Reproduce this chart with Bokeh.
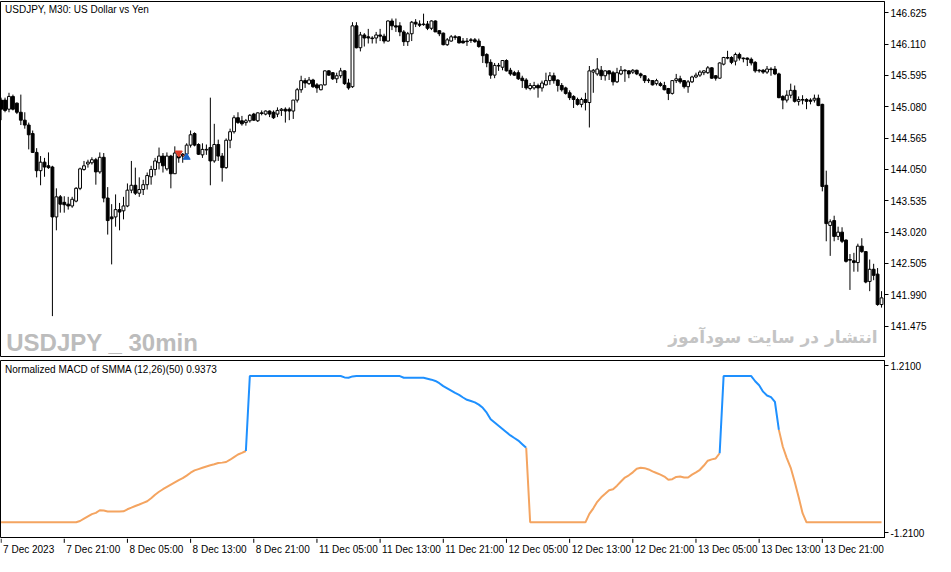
import numpy as np
from bokeh.core.properties import value
from bokeh.embed import file_html
from bokeh.layouts import column
from bokeh.models import ColumnDataSource, FixedTicker, Label, PrintfTickFormatter, Range1d
from bokeh.plotting import figure
from bokeh.resources import INLINE

FONT = "Liberation Sans"

# USDJPY M30, bar index -1 = 7 Dec 2023 13:00
first_bar = -1

opens = [
    145.19, 145.19, 145.04, 145.25, 145.14, 144.99, 144.86, 144.78, 144.64, 144.33, 144.03, 144.17, 144.11, 144.09,
    143.27, 143.60, 143.51, 143.48, 143.45, 143.53, 143.74, 144.05, 144.14, 144.16, 144.21, 144.01, 144.25, 143.58,
    143.27, 143.27, 143.39, 143.37, 143.45, 143.71, 143.79, 143.66, 143.72, 143.80, 143.93, 144.05, 144.16, 144.27,
    144.06, 144.27, 143.98, 144.27, 144.30, 144.30, 144.45, 144.64, 144.46, 144.29, 144.37, 144.41, 144.19, 144.46,
    144.27, 144.08, 144.53, 144.67, 144.90, 144.85, 144.82, 144.85, 144.96, 144.85, 144.98, 144.96, 145.01, 144.99,
    144.96, 145.02, 145.04, 145.04, 145.01, 145.19, 145.36, 145.51, 145.46, 145.52, 145.44, 145.36, 145.44, 145.67,
    145.64, 145.54, 145.59, 145.67, 145.47, 145.41, 146.41, 146.05, 146.26, 146.23, 146.21, 146.21, 146.26, 146.24,
    146.16, 146.49, 146.41, 146.41, 146.31, 146.15, 146.28, 146.47, 146.44, 146.44, 146.44, 146.37, 146.49, 146.33,
    146.29, 146.10, 146.16, 146.23, 146.23, 146.16, 146.16, 146.18, 146.18, 146.16, 146.07, 145.94, 145.81, 145.60,
    145.76, 145.73, 145.84, 145.68, 145.64, 145.64, 145.55, 145.52, 145.38, 145.39, 145.43, 145.39, 145.44, 145.51,
    145.59, 145.52, 145.43, 145.39, 145.31, 145.25, 145.20, 145.12, 145.20, 145.15, 145.65, 145.62, 145.68, 145.59,
    145.67, 145.64, 145.49, 145.62, 145.68, 145.67, 145.65, 145.68, 145.62, 145.59, 145.52, 145.51, 145.46, 145.46,
    145.43, 145.38, 145.30, 145.51, 145.54, 145.51, 145.41, 145.49, 145.57, 145.60, 145.64, 145.64, 145.72, 145.59,
    145.55, 145.78, 145.89, 145.89, 145.83, 145.94, 145.88, 145.88, 145.86, 145.81, 145.68, 145.68, 145.65, 145.70,
    145.70, 145.62, 145.25, 145.19, 145.27, 145.35, 145.17, 145.20, 145.20, 145.19, 145.19, 145.22, 145.12, 143.79,
    143.13, 143.21, 142.95, 143.02, 142.89, 142.57, 142.55, 142.52, 142.79, 142.70, 142.21, 142.41, 142.33, 141.83,
]
highs = [
    145.23, 145.23, 145.31, 145.28, 145.15, 145.28, 144.99, 144.82, 144.69, 144.40, 144.27, 144.24, 144.33, 144.11,
    143.74, 143.63, 143.61, 143.60, 143.60, 143.76, 144.08, 144.19, 144.21, 144.25, 144.24, 144.33, 144.32, 143.76,
    143.48, 143.64, 143.50, 143.60, 143.82, 144.19, 144.08, 143.92, 143.88, 144.00, 144.11, 144.24, 144.41, 144.32,
    144.33, 144.29, 144.43, 144.35, 144.32, 144.48, 144.69, 144.66, 144.48, 144.48, 144.46, 145.23, 144.80, 144.54,
    144.32, 144.56, 144.72, 144.94, 144.99, 144.93, 144.88, 144.96, 144.98, 144.99, 145.02, 145.02, 145.02, 145.02,
    145.07, 145.06, 145.07, 145.07, 145.19, 145.39, 145.59, 145.55, 145.57, 145.54, 145.47, 145.44, 145.68, 145.68,
    145.65, 145.64, 145.72, 145.68, 145.54, 146.47, 146.47, 146.31, 146.29, 146.36, 146.24, 146.31, 146.36, 146.28,
    146.50, 146.53, 146.53, 146.47, 146.34, 146.31, 146.49, 146.52, 146.50, 146.61, 146.49, 146.50, 146.50, 146.34,
    146.30, 146.21, 146.26, 146.26, 146.24, 146.21, 146.21, 146.21, 146.21, 146.20, 146.08, 145.96, 145.86, 145.80,
    145.80, 145.84, 145.86, 145.72, 145.67, 145.68, 145.59, 145.55, 145.47, 145.49, 145.46, 145.51, 145.64, 145.65,
    145.64, 145.53, 145.47, 145.41, 145.35, 145.27, 145.23, 145.23, 145.31, 145.75, 145.70, 145.88, 145.75, 145.68,
    145.68, 145.67, 145.72, 145.75, 145.70, 145.68, 145.70, 145.69, 145.64, 145.60, 145.55, 145.52, 145.54, 145.49,
    145.49, 145.39, 145.52, 145.62, 145.59, 145.52, 145.52, 145.59, 145.64, 145.68, 145.68, 145.75, 145.73, 145.60,
    145.81, 145.90, 146.00, 145.91, 145.97, 145.97, 145.89, 145.89, 145.89, 145.83, 145.70, 145.70, 145.75, 145.73,
    145.75, 145.64, 145.27, 145.35, 145.46, 145.43, 145.25, 145.27, 145.22, 145.22, 145.28, 145.28, 145.13, 144.03,
    143.23, 143.29, 143.11, 143.10, 142.90, 142.66, 142.68, 142.83, 142.92, 142.71, 142.57, 142.50, 142.43, 142.05,
]
lows = [
    144.86, 144.99, 144.99, 145.02, 144.96, 144.78, 144.72, 144.38, 144.32, 143.92, 143.79, 143.93, 144.06, 141.64,
    143.05, 143.34, 143.34, 143.39, 143.42, 143.51, 143.71, 144.03, 144.08, 144.13, 143.80, 143.98, 143.51, 142.98,
    142.49, 143.11, 143.05, 143.23, 143.43, 143.66, 143.63, 143.60, 143.63, 143.72, 143.80, 143.95, 144.05, 144.00,
    144.03, 143.74, 143.98, 144.16, 144.16, 144.29, 144.41, 144.43, 144.29, 144.24, 144.29, 143.79, 144.16, 144.19,
    143.85, 144.06, 144.40, 144.64, 144.80, 144.77, 144.77, 144.82, 144.85, 144.83, 144.94, 144.94, 144.91, 144.88,
    144.91, 144.93, 144.82, 144.86, 144.88, 145.15, 145.31, 145.39, 145.44, 145.39, 145.31, 145.35, 145.43, 145.59,
    145.52, 145.47, 145.55, 145.44, 145.36, 145.39, 146.04, 145.99, 146.07, 146.12, 146.12, 146.12, 146.16, 146.12,
    146.15, 146.34, 146.31, 146.24, 146.08, 146.08, 146.16, 146.39, 146.39, 146.41, 146.34, 146.34, 146.31, 146.24,
    146.09, 146.08, 146.15, 146.18, 146.12, 146.12, 146.08, 146.13, 146.13, 146.05, 145.80, 145.73, 145.54, 145.55,
    145.67, 145.68, 145.66, 145.59, 145.59, 145.52, 145.39, 145.36, 145.35, 145.36, 145.23, 145.33, 145.43, 145.44,
    145.46, 145.33, 145.33, 145.28, 145.19, 145.06, 145.10, 145.07, 145.02, 144.74, 145.31, 145.59, 145.52, 145.51,
    145.52, 145.43, 145.47, 145.60, 145.49, 145.55, 145.62, 145.60, 145.55, 145.47, 145.47, 145.43, 145.43, 145.41,
    145.35, 145.19, 145.28, 145.47, 145.46, 145.38, 145.31, 145.47, 145.55, 145.57, 145.60, 145.62, 145.54, 145.51,
    145.54, 145.76, 145.86, 145.78, 145.76, 145.84, 145.81, 145.75, 145.76, 145.64, 145.64, 145.62, 145.62, 145.59,
    145.60, 145.22, 145.04, 145.15, 145.22, 145.15, 145.10, 145.12, 145.04, 145.12, 145.15, 145.09, 143.69, 142.87,
    142.63, 142.87, 142.89, 142.84, 142.52, 142.07, 142.37, 142.37, 142.68, 142.18, 142.05, 142.23, 141.81, 141.78,
]
closes = [
    145.04, 145.02, 145.25, 145.04, 144.99, 144.86, 144.78, 144.62, 144.33, 144.03, 144.17, 144.09, 144.08, 143.27,
    143.60, 143.48, 143.47, 143.45, 143.56, 143.74, 144.06, 144.11, 144.17, 144.21, 144.01, 144.25, 143.58, 143.21,
    143.24, 143.39, 143.35, 143.45, 143.71, 143.79, 143.66, 143.72, 143.80, 143.95, 144.05, 144.19, 144.27, 144.11,
    144.27, 143.98, 144.32, 144.24, 144.27, 144.45, 144.62, 144.45, 144.30, 144.38, 144.38, 144.19, 144.46, 144.27,
    144.08, 144.53, 144.67, 144.90, 144.82, 144.80, 144.85, 144.94, 144.86, 144.98, 144.97, 145.01, 144.96, 144.90,
    145.02, 145.04, 145.01, 145.01, 145.19, 145.36, 145.51, 145.47, 145.52, 145.41, 145.39, 145.44, 145.67, 145.60,
    145.54, 145.59, 145.67, 145.46, 145.39, 146.41, 146.05, 146.26, 146.21, 146.21, 146.20, 146.26, 146.24, 146.16,
    146.49, 146.41, 146.39, 146.31, 146.15, 146.28, 146.47, 146.44, 146.42, 146.43, 146.37, 146.49, 146.31, 146.28,
    146.10, 146.18, 146.23, 146.22, 146.13, 146.13, 146.15, 146.17, 146.15, 146.07, 145.92, 145.80, 145.60, 145.76,
    145.75, 145.84, 145.67, 145.62, 145.60, 145.54, 145.51, 145.39, 145.43, 145.43, 145.39, 145.47, 145.51, 145.59,
    145.51, 145.43, 145.36, 145.30, 145.23, 145.20, 145.12, 145.20, 145.15, 145.67, 145.68, 145.70, 145.59, 145.67,
    145.62, 145.49, 145.64, 145.68, 145.67, 145.62, 145.68, 145.62, 145.59, 145.51, 145.51, 145.44, 145.51, 145.43,
    145.36, 145.30, 145.51, 145.54, 145.49, 145.41, 145.49, 145.57, 145.60, 145.65, 145.67, 145.72, 145.55, 145.55,
    145.80, 145.89, 145.88, 145.81, 145.94, 145.88, 145.87, 145.86, 145.80, 145.67, 145.67, 145.65, 145.70, 145.69,
    145.62, 145.23, 145.19, 145.27, 145.35, 145.17, 145.20, 145.19, 145.17, 145.17, 145.22, 145.10, 143.77, 143.16,
    143.19, 142.95, 143.02, 142.87, 142.54, 142.56, 142.52, 142.79, 142.70, 142.20, 142.41, 142.31, 141.83, 141.94,
]

# Normalized MACD of SMMA, one value per bar
macd = (
    [-1.060] * 20
    + [-1.041, -1.008, -0.975, -0.942, -0.923, -0.885, -0.890, -0.904, -0.904, -0.904, -0.904, -0.900,
       -0.871, -0.848, -0.824, -0.801, -0.777, -0.754, -0.711, -0.660, -0.617, -0.580, -0.547, -0.514,
       -0.481, -0.448, -0.420, -0.382, -0.340, -0.307, -0.288, -0.269, -0.250, -0.232, -0.218, -0.199,
       -0.194, -0.185, -0.152, -0.114, -0.076, -0.053, -0.025]
    + [1.062] * 24
    + [1.043, 1.038, 1.057]
    + [1.062] * 12
    + [1.038] * 6
    + [1.024, 1.010, 0.991, 0.958, 0.916, 0.883, 0.850, 0.817, 0.789, 0.751, 0.718, 0.700, 0.681, 0.648,
       0.601, 0.530, 0.436, 0.389, 0.342, 0.295, 0.248, 0.201, 0.163, 0.126, 0.074, 0.022]
    + [-1.060] * 15
    + [-0.937, -0.857, -0.763, -0.697, -0.646, -0.594, -0.580, -0.528, -0.467, -0.410, -0.378, -0.335,
       -0.283, -0.269, -0.274, -0.293, -0.321, -0.345, -0.368, -0.396, -0.443, -0.434, -0.401, -0.396,
       -0.410, -0.410, -0.368, -0.335, -0.298, -0.236, -0.166, -0.147, -0.133, -0.058]
    + [1.062] * 8
    + [0.987, 0.930, 0.836, 0.780, 0.756, 0.686, 0.281, 0.036, -0.128, -0.269, -0.471, -0.693, -0.928]
    + [-1.060] * 20
)
# bars where the line is drawn blue (first, last)
blue_runs = [(62, 132), (182, 196)]

price_ticks = [146.625, 146.110, 145.595, 145.080, 144.565, 144.050, 143.535, 143.020, 142.505, 141.990, 141.475]
macd_ticks = [1.21, -1.21]
time_ticks = [-1, 15, 31, 47, 63, 79, 95, 111, 127, 143, 159, 175, 191, 207]
time_labels = ["7 Dec 2023", "7 Dec 21:00", "8 Dec 05:00", "8 Dec 13:00", "8 Dec 21:00", "11 Dec 05:00",
               "11 Dec 13:00", "11 Dec 21:00", "12 Dec 05:00", "12 Dec 13:00", "12 Dec 21:00", "13 Dec 05:00",
               "13 Dec 13:00", "13 Dec 21:00"]

sell_bar, sell_price = 44, 144.32
buy_bar, buy_price = 46, 144.25

ORANGE = "#f4a460"
BLUE = "#1e90ff"

bars = np.arange(first_bar, first_bar + len(closes))
o = np.array(opens)
h = np.array(highs)
l = np.array(lows)
c = np.array(closes)
bull = c >= o

x_rng = Range1d(-1.15, 222.75)


def style_right_axis(ax):
    ax.axis_line_color = "black"
    ax.major_tick_line_color = "black"
    ax.major_tick_out = 4
    ax.major_tick_in = 0
    ax.minor_tick_line_color = None
    ax.major_label_text_font = FONT
    ax.major_label_text_font_size = "10px"
    ax.major_label_text_color = "black"
    ax.major_label_standoff = 2


# price panel
top = figure(frame_width=884, frame_height=356, x_range=x_rng, y_range=Range1d(140.96, 146.81),
             x_axis_location=None, y_axis_location="right", output_backend="svg", toolbar_location=None,
             min_border_left=0, min_border_top=1, min_border_bottom=0, min_border_right=0)
top.grid.visible = False
top.outline_line_color = "black"
top.yaxis.ticker = FixedTicker(ticks=price_ticks)
top.yaxis.formatter = PrintfTickFormatter(format="%.3f")
style_right_axis(top.yaxis[0])

top.segment(x0=bars, y0=h, x1=bars, y1=l, line_color="black", line_width=1)
up = ColumnDataSource(dict(x=bars[bull], top=c[bull], bottom=o[bull]))
dn = ColumnDataSource(dict(x=bars[~bull], top=o[~bull], bottom=c[~bull]))
top.vbar(x="x", top="top", bottom="bottom", width=0.72, source=up, fill_color="white", line_color="black")
top.vbar(x="x", top="top", bottom="bottom", width=0.72, source=dn, fill_color="black", line_color="black")

top.segment(x0=[sell_bar], y0=[sell_price], x1=[buy_bar], y1=[buy_price], line_color="#e03c28",
            line_width=1, line_dash="2 2")
top.scatter([sell_bar], [sell_price], marker="inverted_triangle", size=7, color="#e03c28")
top.scatter([buy_bar], [buy_price], marker="triangle", size=7, color="#1a64c8")

top.add_layout(Label(x=0, y=146.68, text="USDJPY, M30:  US Dollar vs Yen", text_font=FONT,
                     text_font_size="10px", text_baseline="middle", text_color="black"))
top.add_layout(Label(x=0.3, y=141.20, text="USDJPY _ 30min", text_font=FONT,
                     text_font_style="bold", text_font_size="24px", text_color="#bcbcbc",
                     text_baseline="alphabetic"))
top.add_layout(Label(x=221, y=141.30, text="انتشار در سایت سودآموز", text_font="DejaVu Sans",
                     text_font_style="bold", text_font_size="17px", text_color="#c4c4c4",
                     text_align="right", text_baseline="middle"))

# indicator panel
bot = figure(frame_width=884, frame_height=178, x_range=x_rng, y_range=Range1d(-1.295, 1.288),
             x_axis_location=None, y_axis_location="right", output_backend="svg", toolbar_location=None,
             min_border_left=0, min_border_top=3, min_border_bottom=0, min_border_right=0)
bot.grid.visible = False
bot.outline_line_color = "black"
bot.yaxis.ticker = FixedTicker(ticks=macd_ticks)
bot.yaxis.formatter = PrintfTickFormatter(format="%.4f")
style_right_axis(bot.yaxis[0])

blue = np.zeros(len(macd), dtype=bool)
for a, b in blue_runs:
    blue |= (bars >= a) & (bars <= b)
m = np.array(macd)
xs, ys, cols = [], [], []
start = 0
for k in range(1, len(m) + 1):
    if k == len(m) or blue[k] != blue[start]:
        s0 = max(start - 1, 0)
        xs.append(list(bars[s0:k]))
        ys.append(list(m[s0:k]))
        cols.append(BLUE if blue[start] else ORANGE)
        start = k
bot.multi_line(xs=xs, ys=ys, line_color=cols, line_width=2)

bot.add_layout(Label(x=0, y=1.16, text="Normalized MACD of SMMA (12,26)(50) 0.9373", text_font=FONT,
                     text_font_size="10px", text_baseline="middle", text_color="black"))

# time scale: tick marks and labels left-aligned at them, as in the terminal
lab = figure(frame_width=884, frame_height=18, x_range=x_rng, y_range=Range1d(0, 1),
             x_axis_location=None, y_axis_location=None, output_backend="svg", toolbar_location=None,
             min_border=0, outline_line_color=None)
lab.grid.visible = False
lab.segment(x0=time_ticks, y0=[1.0] * len(time_ticks), x1=time_ticks, y1=[0.76] * len(time_ticks),
            line_color="black", line_width=1)
lab.text(x=time_ticks, y=[0.38] * len(time_ticks), text=time_labels, text_align="left",
         text_baseline="middle", x_offset=2, text_font=value(FONT), text_font_size="10px", text_color="black")

page = column(top, bot, lab, spacing=0)
open("out.html", "w").write(file_html(page, INLINE))
